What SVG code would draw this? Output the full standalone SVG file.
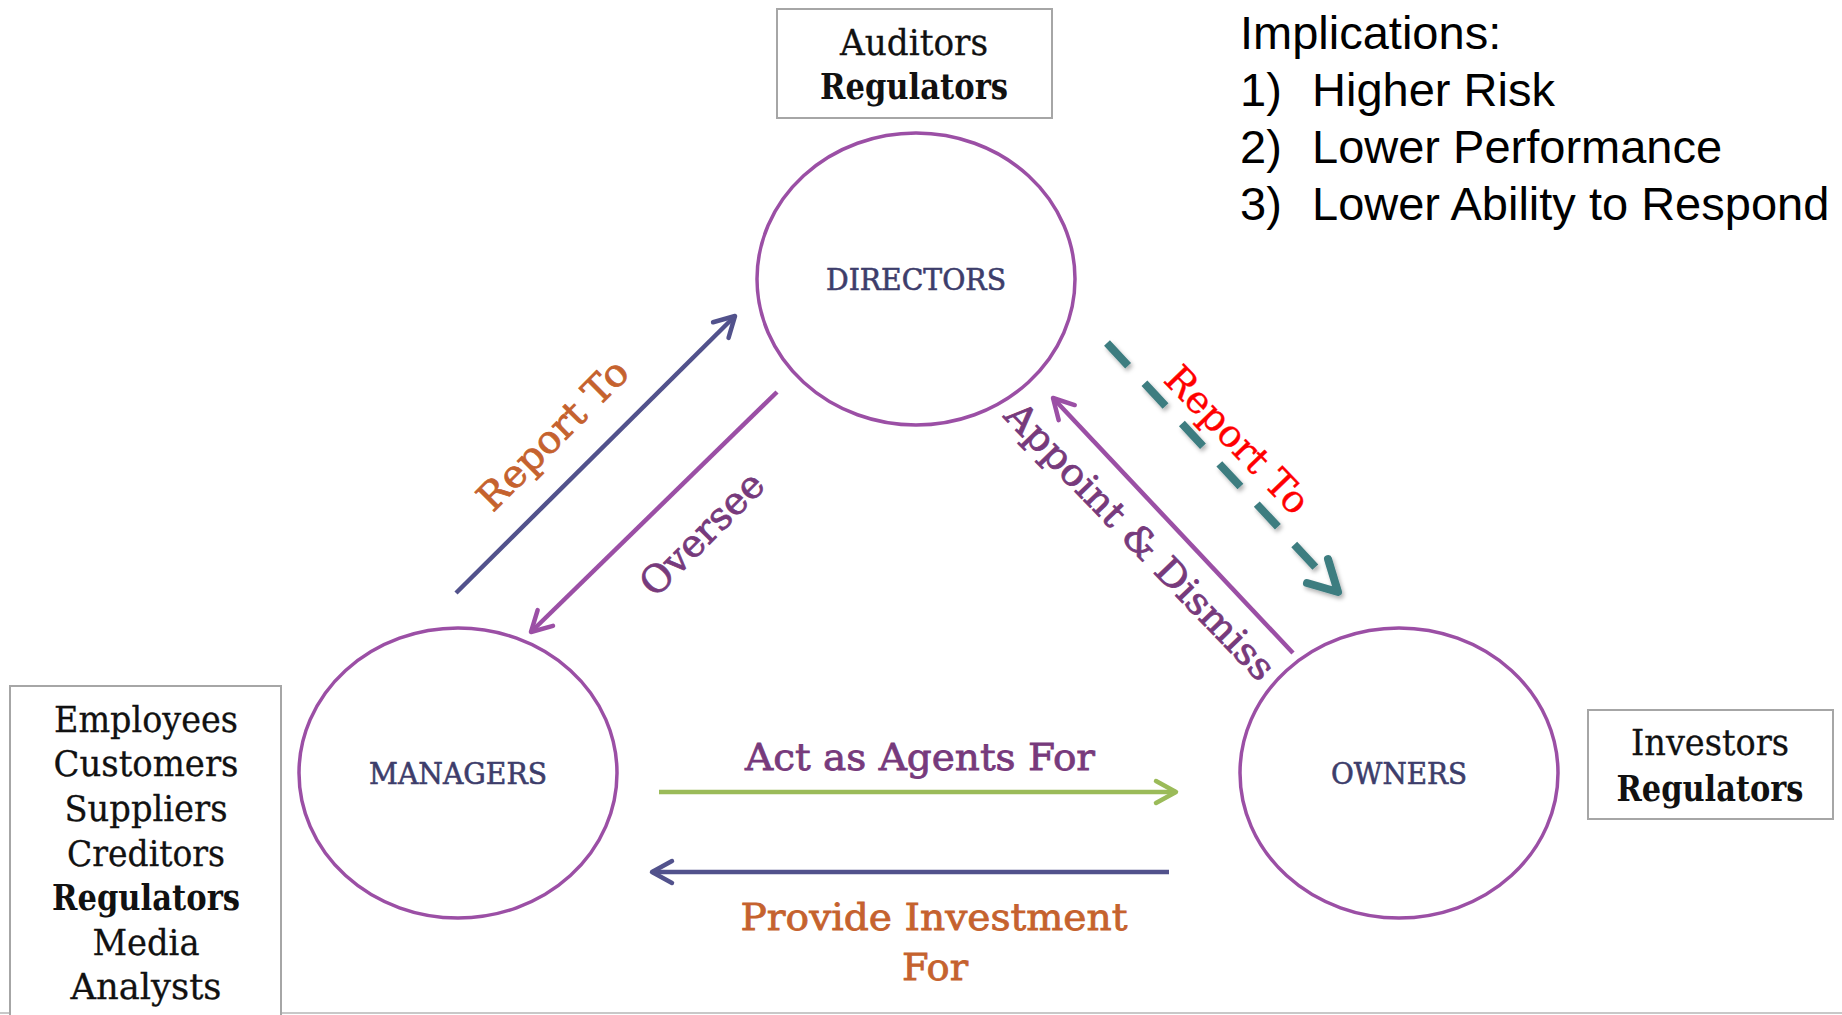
<svg xmlns="http://www.w3.org/2000/svg" width="1842" height="1015" viewBox="0 0 1842 1015">
  <style>
    .bg { fill: #ffffff; }
    .node { fill: #ffffff; stroke: #9B4FA5; stroke-width: 3.5; }
    .nlabel { font-family: "DejaVu Serif", "Liberation Serif", serif; font-size: 29px; fill: #3D3D6B; stroke: #3D3D6B; stroke-width: 0.6; text-anchor: middle; }
    .box { fill: #ffffff; stroke: #A6A6A6; stroke-width: 2; }
    .btext { font-family: "DejaVu Serif", "Liberation Serif", serif; font-size: 35px; fill: #111111; stroke: #111111; stroke-width: 0.3; text-anchor: middle; }
    .bold { font-weight: bold; stroke-width: 0; }
    .impl { font-family: "Liberation Sans", Arial, sans-serif; font-size: 47px; fill: #000000; }
    .conn { fill: none; stroke-width: 4.5; stroke-linecap: butt; }
    .indigo { stroke: #52528C; }
    .purple { stroke: #9B4FA5; }
    .green { stroke: #9BBB59; }
    .teal { stroke: #3E7D80; stroke-width: 8; stroke-dasharray: 31 24; }
    .tealhead { fill: none; stroke: #3E7D80; stroke-width: 8; stroke-linecap: round; stroke-linejoin: round; }
    .lbl { font-family: "DejaVu Serif", "Liberation Serif", serif; text-anchor: middle; stroke-width: 0.8; }
    .lpurple { fill: #773A7C; stroke: #773A7C; }
    .lorange { fill: #C5622E; stroke: #C5622E; }
    .lred { fill: #FF0000; stroke: #FF0000; stroke-width: 0.4; }
  </style>
  <defs>
    <marker id="mIndigo" markerUnits="userSpaceOnUse" viewBox="-26 -16 32 32" refX="0" refY="0" markerWidth="32" markerHeight="32" orient="auto">
      <path d="M-20,-11 L0,0 L-20,11" fill="none" stroke="#52528C" stroke-width="4.5" stroke-linecap="round" stroke-linejoin="round"/>
    </marker>
    <marker id="mPurple" markerUnits="userSpaceOnUse" viewBox="-26 -16 32 32" refX="0" refY="0" markerWidth="32" markerHeight="32" orient="auto">
      <path d="M-20,-11 L0,0 L-20,11" fill="none" stroke="#9B4FA5" stroke-width="4.5" stroke-linecap="round" stroke-linejoin="round"/>
    </marker>
    <marker id="mGreen" markerUnits="userSpaceOnUse" viewBox="-26 -16 32 32" refX="0" refY="0" markerWidth="32" markerHeight="32" orient="auto">
      <path d="M-20,-11 L0,0 L-20,11" fill="none" stroke="#9BBB59" stroke-width="4.5" stroke-linecap="round" stroke-linejoin="round"/>
    </marker>
    <filter id="shadow" x="-20%" y="-20%" width="140%" height="140%">
      <feDropShadow dx="2" dy="3" stdDeviation="2" flood-color="#000000" flood-opacity="0.3"/>
    </filter>
  </defs>

  <rect class="bg" x="0" y="0" width="1842" height="1015"/>
  <line x1="0" y1="1013" x2="1842" y2="1013" stroke="#C8C8C8" stroke-width="2"/>

  <g id="node-auditors">
    <rect class="box" x="777" y="9" width="275" height="109"/>
    <text class="btext" x="914" y="55" textLength="148" lengthAdjust="spacingAndGlyphs">Auditors</text>
    <text class="btext bold" x="914" y="99" textLength="188" lengthAdjust="spacingAndGlyphs">Regulators</text>
  </g>

  <g id="node-stakeholders">
    <rect class="box" x="10" y="686" width="271" height="340"/>
    <text class="btext" x="146" y="732" textLength="184" lengthAdjust="spacingAndGlyphs">Employees</text>
    <text class="btext" x="146" y="776" textLength="185" lengthAdjust="spacingAndGlyphs">Customers</text>
    <text class="btext" x="146" y="821" textLength="163" lengthAdjust="spacingAndGlyphs">Suppliers</text>
    <text class="btext" x="146" y="866" textLength="158" lengthAdjust="spacingAndGlyphs">Creditors</text>
    <text class="btext bold" x="146" y="910" textLength="188" lengthAdjust="spacingAndGlyphs">Regulators</text>
    <text class="btext" x="146" y="955" textLength="107" lengthAdjust="spacingAndGlyphs">Media</text>
    <text class="btext" x="146" y="999" textLength="151" lengthAdjust="spacingAndGlyphs">Analysts</text>
  </g>

  <g id="node-investors">
    <rect class="box" x="1588" y="710" width="245" height="109"/>
    <text class="btext" x="1710" y="755" textLength="158" lengthAdjust="spacingAndGlyphs">Investors</text>
    <text class="btext bold" x="1710" y="801" textLength="187" lengthAdjust="spacingAndGlyphs">Regulators</text>
  </g>

  <g id="implications">
    <text class="impl" x="1240" y="49">Implications:</text>
    <text class="impl" x="1240" y="106">1)</text>
    <text class="impl" x="1312" y="106">Higher Risk</text>
    <text class="impl" x="1240" y="163">2)</text>
    <text class="impl" x="1312" y="163">Lower Performance</text>
    <text class="impl" x="1240" y="220">3)</text>
    <text class="impl" x="1312" y="220">Lower Ability to Respond</text>
  </g>

  <g id="node-directors">
    <ellipse class="node" cx="916" cy="279" rx="159" ry="146"/>
    <text class="nlabel" x="916" y="290" textLength="180" lengthAdjust="spacingAndGlyphs">DIRECTORS</text>
  </g>

  <g id="node-managers">
    <ellipse class="node" cx="458" cy="773" rx="159" ry="145"/>
    <text class="nlabel" x="458" y="784" textLength="178" lengthAdjust="spacingAndGlyphs">MANAGERS</text>
  </g>

  <g id="node-owners">
    <ellipse class="node" cx="1399" cy="773" rx="159" ry="145"/>
    <text class="nlabel" x="1399" y="784" textLength="136" lengthAdjust="spacingAndGlyphs">OWNERS</text>
  </g>

  <g id="connectors">
    <line class="conn indigo" x1="456" y1="593" x2="735" y2="316" marker-end="url(#mIndigo)"/>
    <line class="conn purple" x1="777" y1="392" x2="531" y2="632" marker-end="url(#mPurple)"/>
    <line class="conn purple" x1="1293" y1="653" x2="1053" y2="398" marker-end="url(#mPurple)"/>
    <g filter="url(#shadow)">
      <line class="conn teal" x1="1107" y1="343" x2="1318" y2="570"/>
      <path class="tealhead" d="M1328,559 L1338,592 L1307,583"/>
    </g>
    <line class="conn green" x1="659" y1="792" x2="1176" y2="792" marker-end="url(#mGreen)"/>
    <line class="conn indigo" x1="1169" y1="872" x2="652" y2="872" marker-end="url(#mIndigo)"/>
  </g>

  <g id="connector-labels">
    <text class="lbl lorange" font-size="38" transform="translate(562,444) rotate(-45)" textLength="196" lengthAdjust="spacingAndGlyphs">Report To</text>
    <text class="lbl lpurple" font-size="38" transform="translate(711,543) rotate(-45)" textLength="158" lengthAdjust="spacingAndGlyphs">Oversee</text>
    <text class="lbl lpurple" font-size="37" transform="translate(1131,550) rotate(46)" textLength="370" lengthAdjust="spacingAndGlyphs">Appoint &amp; Dismiss</text>
    <text class="lbl lred" font-size="38" transform="translate(1228,449) rotate(46)" textLength="189" lengthAdjust="spacingAndGlyphs">Report To</text>
    <text class="lbl lpurple" font-size="38" x="920" y="770" textLength="350" lengthAdjust="spacingAndGlyphs">Act as Agents For</text>
    <text class="lbl lorange" font-size="38" x="934" y="930" textLength="387" lengthAdjust="spacingAndGlyphs">Provide Investment</text>
    <text class="lbl lorange" font-size="38" x="935" y="980" textLength="66" lengthAdjust="spacingAndGlyphs">For</text>
  </g>
</svg>
